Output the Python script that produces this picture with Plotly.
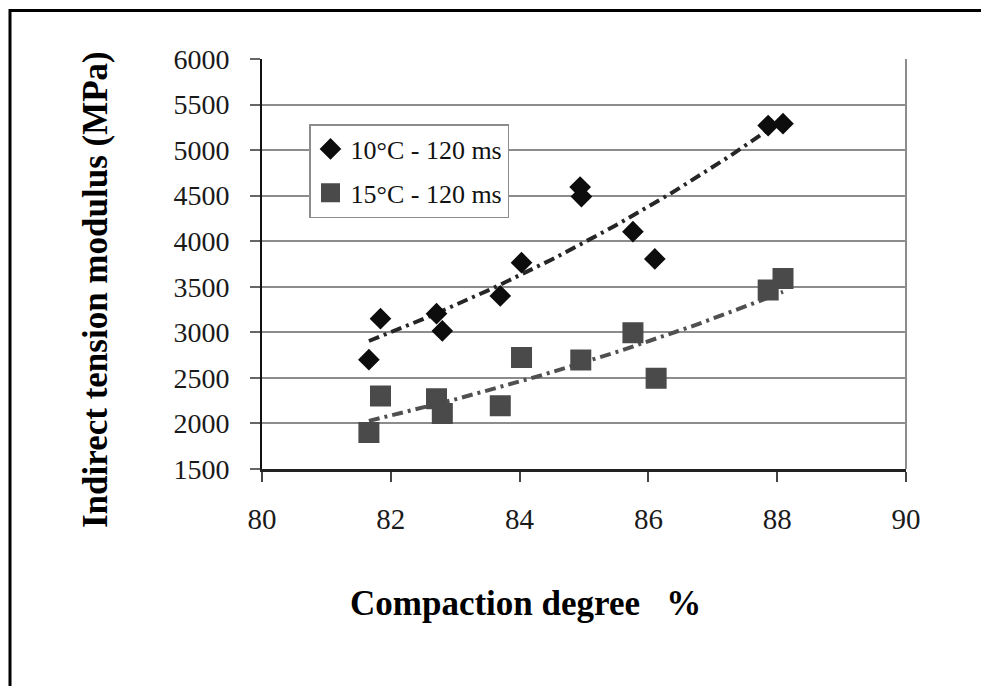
import numpy as np
import plotly.graph_objects as go

# Indirect tension modulus vs. compaction degree, two test temperatures
x_10c = [81.66, 81.84, 82.71, 82.80, 83.70, 84.03, 84.94, 84.96, 85.76, 86.10, 87.86, 88.09]
y_10c = [2700, 3150, 3205, 3015, 3400, 3765, 4595, 4490, 4105, 3805, 5270, 5290]

x_15c = [81.66, 81.84, 82.71, 82.80, 83.70, 84.03, 84.95, 85.76, 86.12, 87.86, 88.09]
y_15c = [1900, 2300, 2270, 2110, 2195, 2725, 2695, 2995, 2495, 3465, 3590]

series_names = ["10°C - 120 ms", "15°C - 120 ms"]
x_ticks = [80, 82, 84, 86, 88, 90]
y_ticks = [1500, 2000, 2500, 3000, 3500, 4000, 4500, 5000, 5500, 6000]

SERIF = "Liberation Serif, Times New Roman, serif"
W, H = 981, 686
L, R, T, B = 262, 75, 59, 217
PW, PH = W - L - R, H - T - B


def px_x(p):
    return (p - L) / PW


def px_y(p):
    return (H - B - p) / PH


def exp_trend(x, y):
    """Exponential trendline y = a*exp(b*x), fitted on log(y)."""
    b, ln_a = np.polyfit(np.asarray(x), np.log(np.asarray(y)), 1)
    xs = np.linspace(min(x), max(x), 60)
    return xs, np.exp(ln_a + b * xs)


fig = go.Figure()

tx10, ty10 = exp_trend(x_10c, y_10c)
tx15, ty15 = exp_trend(x_15c, y_15c)

fig.add_trace(go.Scatter(x=tx10, y=ty10, mode="lines", showlegend=False, hoverinfo="skip",
                         line=dict(color="#262626", width=4, dash="11px,5px,3px,5px")))
fig.add_trace(go.Scatter(x=tx15, y=ty15, mode="lines", showlegend=False, hoverinfo="skip",
                         line=dict(color="#505050", width=4, dash="11px,5px,3px,5px")))

fig.add_trace(go.Scatter(
    x=x_10c, y=y_10c, mode="markers", name=series_names[0], legendgroup="a",
    marker=dict(symbol="diamond", size=14, color="#0d0d0d",
                line=dict(color="#0d0d0d", width=2.5)),
))
fig.add_trace(go.Scatter(
    x=x_15c, y=y_15c, mode="markers", name=series_names[1], legendgroup="b",
    marker=dict(symbol="square", size=18, color="#4a4a4a",
                line=dict(color="#4a4a4a", width=3)),
))

fig.update_xaxes(
    range=[80, 90], tickvals=x_ticks, ticktext=[str(v) for v in x_ticks],
    showgrid=False, zeroline=False,
    showline=True, linecolor="#222222", linewidth=2.5,
    ticks="outside", ticklen=10, tickwidth=1.5, tickcolor="#444444",
    tickfont=dict(family=SERIF, size=29, color="#1a1a1a"), ticklabelstandoff=12,
)
fig.update_yaxes(
    range=[1500, 6000], tickvals=y_ticks, ticktext=[str(v) for v in y_ticks],
    showgrid=True, gridcolor="#8c8c8c", gridwidth=1.6, zeroline=False,
    showline=True, linecolor="#111111", linewidth=2,
    ticks="outside", ticklen=10, tickwidth=1.5, tickcolor="#666666",
    tickfont=dict(family=SERIF, size=28, color="#1a1a1a"), ticklabelstandoff=15,
)

shapes = [
    # right edge of the plotting area
    dict(type="line", xref="paper", yref="paper", x0=1, x1=1, y0=0, y1=1,
         line=dict(color="#8c8c8c", width=2)),
    # outer frame (top and left sides)
    dict(type="path", xref="paper", yref="paper",
         path=f"M {px_x(10)} {px_y(720)} L {px_x(10)} {px_y(10.5)} L {px_x(1000)} {px_y(10.5)}",
         line=dict(color="#000000", width=3)),
]

annotations = [
    dict(text="<b>Indirect tension modulus (MPa)</b>", xref="paper", yref="paper",
         x=px_x(95), y=px_y(290), textangle=-90, showarrow=False,
         xanchor="center", yanchor="middle",
         font=dict(family=SERIF, size=35, color="#000000")),
    dict(text="<b>Compaction degree \u00a0 %</b>", xref="paper", yref="paper",
         x=px_x(525), y=px_y(603), showarrow=False,
         xanchor="center", yanchor="middle",
         font=dict(family=SERIF, size=35, color="#000000")),
]

fig.update_layout(
    width=W, height=H,
    margin=dict(l=L, r=R, t=T, b=B, pad=0),
    paper_bgcolor="white", plot_bgcolor="white",
    shapes=shapes, annotations=annotations,
    showlegend=True,
    legend=dict(
        x=px_x(309), y=px_y(124), xanchor="left", yanchor="top",
        bgcolor="white", bordercolor="#8c8c8c", borderwidth=1.5,
        font=dict(family=SERIF, size=26, color="#111111"),
        tracegroupgap=7, itemwidth=30,
    ),
)

fig.write_html("out.html")
